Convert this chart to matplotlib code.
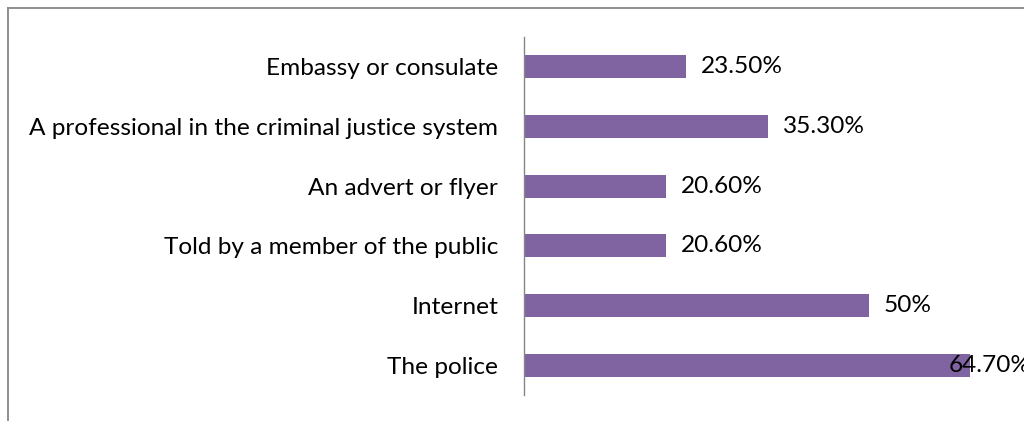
import matplotlib
matplotlib.use("Agg")
import matplotlib.pyplot as plt
from matplotlib.lines import Line2D

categories = ["The police", "Internet", "Told by a member of the public",
              "An advert or flyer", "A professional in the criminal justice system",
              "Embassy or consulate"]
values = [64.7, 50.0, 20.6, 20.6, 35.3, 23.5]
labels = ["64.70%", "50%", "20.60%", "20.60%", "35.30%", "23.50%"]

W, H = 1024, 421
fig = plt.figure(figsize=(W / 100, H / 100), dpi=100)
plt.rcParams['font.family'] = ['Lato', 'DejaVu Sans']

ax_left, ax_right, ax_top, ax_bottom = 524, 1024, 37, 395
ax = fig.add_axes([ax_left / W, 1 - ax_bottom / H, (ax_right - ax_left) / W, (ax_bottom - ax_top) / H])
px_per_unit = 6.9
ax.set_xlim(0, (ax_right - ax_left) / px_per_unit)
ax.set_ylim(-0.5, len(categories) - 0.5)

color = "#8064A2"
y = list(range(len(categories)))
ax.barh(y, values, height=0.39, color=color, zorder=2)

fs = 17.6
ax.set_yticks(y)
ax.set_yticklabels(categories, fontsize=fs, color="#000000")
ax.tick_params(axis='y', length=0, pad=18.5)
ax.set_xticks([])
for s in ["top", "right", "bottom"]:
    ax.spines[s].set_visible(False)
ax.spines["left"].set_color("#868686")
ax.spines["left"].set_linewidth(1.0)

for i, (v, lab) in enumerate(zip(values, labels)):
    off = 10.8
    if v > 60:
        off = -15.6
    ax.annotate(lab, (v, i), xytext=(off, 0), textcoords="offset points",
                va="center", ha="left", fontsize=fs, color="#000000",
                annotation_clip=False, zorder=3)

# outer frame (top and left edges visible)
fig.add_artist(Line2D([7.5 / W, 1.0], [1 - 7.5 / H, 1 - 7.5 / H], transform=fig.transFigure,
                      color="#878787", linewidth=1.3))
fig.add_artist(Line2D([7.5 / W, 7.5 / W], [1 - 7.5 / H, 0], transform=fig.transFigure,
                      color="#878787", linewidth=1.3))

fig.savefig("out.png", dpi=100)
